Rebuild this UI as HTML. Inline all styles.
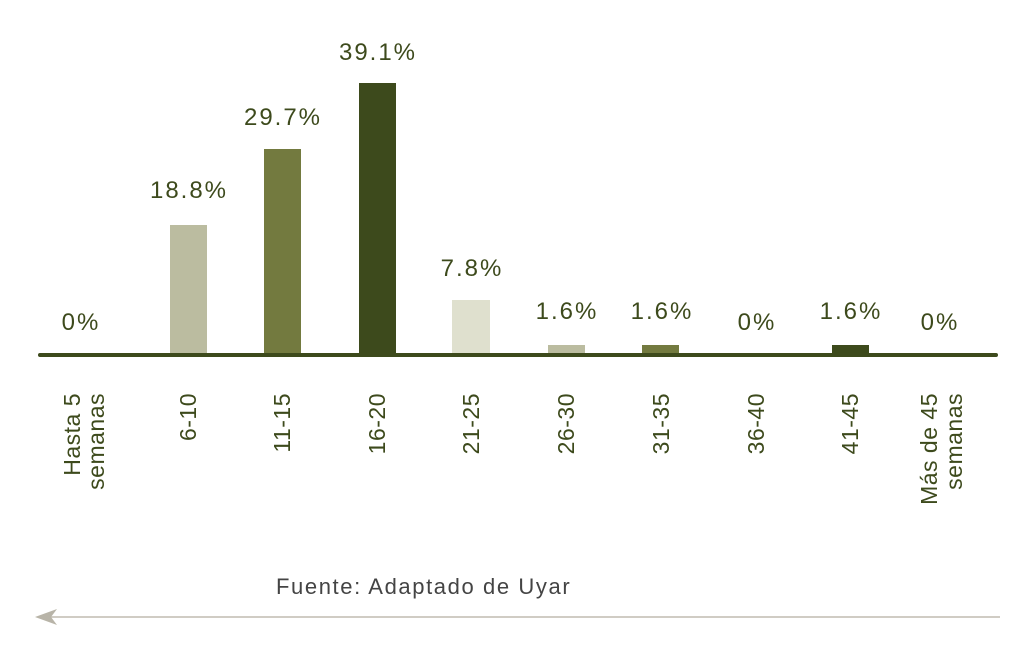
<!DOCTYPE html><html><head><style>body{margin:0;background:#fff}</style></head><body>
<svg width="1024" height="654" xmlns="http://www.w3.org/2000/svg" font-family="Liberation Sans, sans-serif">
<g fill="#3d4a1c" font-size="24" text-anchor="middle" letter-spacing="2">
<text x="81" y="330">0%</text>
<text x="189" y="198">18.8%</text>
<text x="283" y="125">29.7%</text>
<text x="378" y="60">39.1%</text>
<text x="472" y="276">7.8%</text>
<text x="567" y="319">1.6%</text>
<text x="662" y="319">1.6%</text>
<text x="757" y="330">0%</text>
<text x="851" y="319">1.6%</text>
<text x="940" y="330">0%</text>
</g>
<rect x="170" y="225" width="37" height="130" fill="#bbbca0"/>
<rect x="264" y="149" width="37" height="206" fill="#737a3f"/>
<rect x="359" y="83" width="37" height="272" fill="#3d4a1c"/>
<rect x="452" y="300" width="38" height="55" fill="#dfe0ce"/>
<rect x="548" y="345" width="37" height="10" fill="#bbbca0"/>
<rect x="642" y="345" width="37" height="10" fill="#737a3f"/>
<rect x="832" y="345" width="37" height="10" fill="#3d4a1c"/>
<line x1="40" y1="355" x2="996" y2="355" stroke="#3d4a1c" stroke-width="4" stroke-linecap="round"/>
<g fill="#3d4a1c" font-size="23" text-anchor="end" letter-spacing="0.5">
<text transform="translate(80,393) rotate(-90)">Hasta 5</text>
<text transform="translate(104,393) rotate(-90)">semanas</text>
<text transform="translate(196,393) rotate(-90)">6-10</text>
<text transform="translate(290,393) rotate(-90)">11-15</text>
<text transform="translate(385,393) rotate(-90)">16-20</text>
<text transform="translate(479,393) rotate(-90)">21-25</text>
<text transform="translate(574,393) rotate(-90)">26-30</text>
<text transform="translate(669,393) rotate(-90)">31-35</text>
<text transform="translate(764,393) rotate(-90)">36-40</text>
<text transform="translate(858,393) rotate(-90)">41-45</text>
<text transform="translate(937,393) rotate(-90)">Más de 45</text>
<text transform="translate(962,393) rotate(-90)">semanas</text>
</g>
<text x="276" y="594" font-size="22" fill="#444" letter-spacing="1.6">Fuente: Adaptado de Uyar</text>
<line x1="45" y1="617" x2="1000" y2="617" stroke="#c0bbb0" stroke-width="1.5"/>
<polygon points="35,617 57,609 51,617 57,625" fill="#b8b4a8"/>
</svg>
</body></html>
